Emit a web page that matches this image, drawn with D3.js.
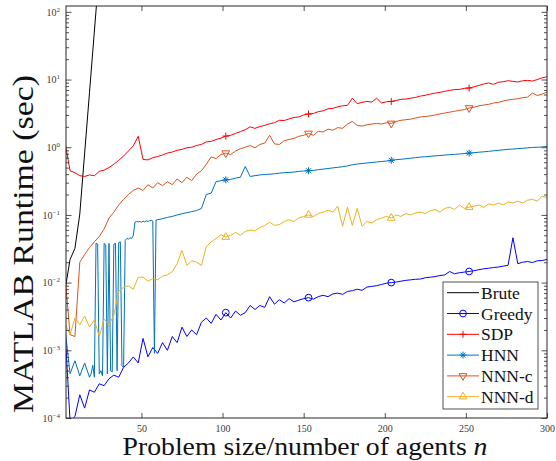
<!DOCTYPE html>
<html>
<head>
<meta charset="utf-8">
<script src="https://cdn.jsdelivr.net/npm/d3@7"></script>
<style>
body { margin: 0; background: #fff; }
svg { display: block; font-family: "Liberation Serif", serif; }
</style>
</head>
<body>
<svg width="556" height="461"></svg>
<script>
// problem sizes n, every third size
var sizes = d3.range(3, 301, 3)

var bruteSizes = [3, 6, 9, 12, 15, 18, 21, 24]
var brute = [0.008, 0.022, 0.032, 0.103, 0.82, 6.5, 52, 410]

var greedy = [
    0.0018, 0.00009, 0.000105, 0.00022, 0.00014, 0.00026, 0.00024, 0.00032, 0.0003, 0.00038,
    0.00043, 0.0004, 0.00056, 0.00065, 0.0008, 0.00065, 0.0015, 0.0008, 0.0011, 0.0009,
    0.0013, 0.001, 0.0016, 0.0013, 0.0022, 0.0016, 0.002, 0.0017, 0.0026, 0.003,
    0.0025, 0.0034, 0.0028, 0.0036, 0.003, 0.0038, 0.0033, 0.0036, 0.0046, 0.004,
    0.0046, 0.0043, 0.0062, 0.0048, 0.0056, 0.005, 0.0058, 0.0052, 0.0055, 0.0058,
    0.006, 0.0057, 0.0062, 0.0065, 0.0062, 0.0068, 0.007, 0.0067, 0.0074, 0.0076,
    0.008, 0.0077, 0.0086, 0.0088, 0.009, 0.0094, 0.0098, 0.01, 0.0102, 0.0105,
    0.0108, 0.011, 0.0112, 0.0113, 0.0118, 0.012, 0.0123, 0.0127, 0.013, 0.0146,
    0.0135, 0.014, 0.0143, 0.0146, 0.015, 0.0155, 0.016, 0.0163, 0.0167, 0.017,
    0.0175, 0.018, 0.046, 0.019, 0.02, 0.0205, 0.0198, 0.021, 0.0212, 0.022
]

var sdp = [
    1.15, 0.45, 0.42, 0.38, 0.37, 0.39, 0.38, 0.44, 0.46, 0.5,
    0.56, 0.64, 0.74, 0.88, 1.05, 1.45, 0.66, 0.65, 0.7, 0.73,
    0.77, 0.82, 0.85, 0.9, 0.93, 0.98, 1.0, 1.06, 1.1, 1.2,
    1.22, 1.3, 1.36, 1.46, 1.5, 1.6, 1.7, 1.82, 2.0, 1.9,
    2.02, 2.1, 2.22, 2.3, 2.5, 2.48, 2.62, 2.75, 2.8, 3.0,
    3.1, 3.15, 3.35, 3.45, 3.7, 3.75, 3.95, 4.1, 4.15, 5.3,
    4.4, 4.6, 4.75, 4.65, 5.3, 4.5, 4.7, 4.75, 4.9, 5.1,
    5.15, 5.3, 5.45, 5.7, 5.85, 6.1, 6.3, 6.45, 6.7, 6.9,
    7.1, 7.15, 7.4, 7.5, 7.8, 8.2, 8.6, 8.9, 8.5, 9.1,
    9.3, 9.6, 9.4, 9.2, 9.6, 9.7, 9.5, 10.0, 10.6, 11.0
]

// HNN is read at every size where it jumps between its two levels
var hnnSizes = [
    3, 6, 9, 12, 15, 18,
    19, 20, 21, 22, 23, 24, 25, 26, 27, 28, 29, 30, 31, 32, 33, 34, 35, 36, 37, 38, 39,
    40, 41, 42, 43, 44, 45, 46, 47, 48, 49, 50, 51, 52, 53, 54, 55, 56, 57, 58, 59, 60,
    63, 66, 69, 72, 75, 78, 81, 84, 87, 90,
    93, 96, 99, 102, 105, 108, 111, 114, 117, 120,
    123, 126, 129, 132, 135, 138, 141, 144, 147, 150,
    153, 156, 159, 162, 165, 168, 171, 174, 177, 180,
    183, 186, 189, 192, 195, 198, 201, 204, 207, 210,
    213, 216, 219, 222, 225, 228, 231, 234, 237, 240,
    243, 246, 249, 252, 255, 258, 261, 264, 267, 270,
    273, 276, 279, 282, 285, 288, 291, 294, 297, 300
]
var hnn = [
    0.002, 0.00045, 0.0007, 0.00042, 0.00065, 0.0004,
    0.00045, 0.0006, 0.0004, 0.038, 0.037, 0.00045, 0.0005, 0.00042, 0.038, 0.036, 0.00045,
    0.038, 0.0005, 0.00048, 0.037, 0.038, 0.0005, 0.039, 0.04, 0.0006, 0.00055,
    0.042, 0.045, 0.044, 0.046, 0.045, 0.05, 0.078, 0.08, 0.079, 0.08, 0.078, 0.081,
    0.079, 0.082, 0.08, 0.082, 0.083, 0.081, 0.0009, 0.084, 0.085,
    0.088, 0.092, 0.095, 0.1, 0.104, 0.108, 0.112, 0.116, 0.125, 0.2,
    0.21, 0.31, 0.32, 0.33, 0.335, 0.35, 0.36, 0.52, 0.37, 0.38,
    0.39, 0.395, 0.4, 0.405, 0.415, 0.42, 0.425, 0.43, 0.44, 0.445,
    0.45, 0.455, 0.465, 0.475, 0.485, 0.495, 0.505, 0.515, 0.53, 0.55,
    0.565, 0.575, 0.585, 0.595, 0.605, 0.615, 0.625, 0.64, 0.655, 0.665,
    0.675, 0.69, 0.7, 0.715, 0.725, 0.735, 0.745, 0.755, 0.765, 0.775,
    0.785, 0.795, 0.805, 0.82, 0.83, 0.845, 0.855, 0.87, 0.885, 0.9,
    0.915, 0.93, 0.94, 0.955, 0.965, 0.98, 0.99, 1.0, 1.01, 1.03
]

var nnnC = [
    0.012, 0.0017, 0.0016, 0.02, 0.026, 0.033, 0.04, 0.048, 0.062, 0.09,
    0.11, 0.14, 0.17, 0.2, 0.23, 0.25, 0.23, 0.28, 0.25, 0.3,
    0.27, 0.31, 0.28, 0.34, 0.3, 0.36, 0.32, 0.4, 0.45, 0.56,
    0.72, 0.68, 0.78, 0.82, 0.78, 0.88, 0.95, 1.0, 1.06, 0.98,
    1.1, 1.15, 1.5, 1.12, 1.1, 1.25, 1.3, 1.35, 1.45, 1.5,
    1.6, 1.5, 1.72, 1.68, 1.85, 1.78, 1.95, 1.9, 2.2, 2.4,
    2.1, 2.05, 2.15, 2.2, 2.25, 2.2, 2.3, 2.25, 2.4, 2.5,
    2.55, 2.6, 2.7, 2.8, 2.85, 2.9, 3.0, 3.1, 3.2, 3.3,
    3.4, 3.5, 3.6, 3.8, 3.9, 4.1, 4.2, 4.3, 4.5, 4.6,
    4.8, 5.0, 5.1, 5.2, 5.4, 5.5, 6.3, 5.8, 6.1, 6.5
]

var nnnD = [
    0.0025, 0.0017, 0.003, 0.0024, 0.0032, 0.0022, 0.0028, 0.0016, 0.0029, 0.0024,
    0.0033, 0.0075, 0.0085, 0.009, 0.008, 0.012, 0.012, 0.0105, 0.0115, 0.011,
    0.0125, 0.013, 0.0145, 0.019, 0.03, 0.018, 0.021, 0.02, 0.018, 0.034,
    0.04, 0.045, 0.051, 0.047, 0.05, 0.055, 0.05, 0.057, 0.06, 0.058,
    0.065, 0.07, 0.078, 0.07, 0.072, 0.08, 0.085, 0.08, 0.09, 0.095,
    0.1, 0.095, 0.105, 0.11, 0.118, 0.11, 0.135, 0.068, 0.13, 0.07,
    0.125, 0.068, 0.08, 0.076, 0.085, 0.09, 0.095, 0.09, 0.1, 0.095,
    0.105, 0.1, 0.107, 0.11, 0.105, 0.115, 0.12, 0.11, 0.125, 0.13,
    0.12, 0.14, 0.125, 0.13, 0.135, 0.14, 0.13, 0.145, 0.14, 0.15,
    0.14, 0.155, 0.15, 0.16, 0.15, 0.165, 0.17, 0.16, 0.19, 0.18
]

var seriesNames = ["Brute", "Greedy", "SDP", "HNN", "NNN-c", "NNN-d"]
var seriesColors = ["#000000", "#0000ff", "#ff0000", "#0072bd", "#d95319", "#edb120"]
var seriesMarkers = ["", "o", "+", "*", "v", "^"]
var markerSizes = [102, 153, 204, 252]

var xTicks = [50, 100, 150, 200, 250, 300]
var yTicks = [1e-4, 1e-3, 1e-2, 1e-1, 1e0, 1e1, 1e2]

var box = {left: 66, right: 547, top: 6, bottom: 418}
var serif = "Liberation Serif"

function renderViz() {
    var svg = d3.select("svg")
    var xScale = d3.scaleLinear().domain([3.5, 300]).range([box.left, box.right])
    var yScale = d3.scaleLog().domain([1e-4, 122]).range([box.bottom, box.top])

    var pair = (ns, vs) => ns.map((n, i) => ({n: n, v: vs[i]}))
    var series = [
        pair(bruteSizes, brute),
        pair(sizes, greedy),
        pair(sizes, sdp),
        pair(hnnSizes, hnn),
        pair(sizes, nnnC),
        pair(sizes, nnnD)
    ]

    svg.append("clipPath").attr("id", "plotclip")
        .append("rect")
        .attr("x", box.left).attr("y", box.top)
        .attr("width", box.right - box.left).attr("height", box.bottom - box.top)

    var lineGen = d3.line()
        .x(d => xScale(d.n))
        .y(d => yScale(d.v))

    var plot = svg.append("g").attr("clip-path", "url(#plotclip)")

    plot.selectAll("path.series")
        .data(series)
        .enter()
        .append("path")
        .attr("class", "series")
        .attr("d", d => lineGen(d))
        .attr("fill", "none")
        .attr("stroke", (d, i) => seriesColors[i])
        .attr("stroke-width", 1)
        .attr("stroke-linejoin", "round")

    series.forEach((s, i) => {
        if (!seriesMarkers[i]) return
        plot.selectAll(null)
            .data(s.filter(d => markerSizes.includes(d.n)))
            .enter()
            .append("path")
            .attr("d", markerPath(seriesMarkers[i]))
            .attr("transform", d => "translate(" + xScale(d.n) + "," + yScale(d.v) + ")")
            .attr("fill", "none")
            .attr("stroke", seriesColors[i])
            .attr("stroke-width", 1)
    })

    renderAxes(svg, xScale, yScale)
    renderLegend(svg)
    renderLabels(svg)
}

function markerPath(type) {
    if (type == "o") return d3.symbol(d3.symbolCircle).size(36)()
    if (type == "+") return "M-3.5,0H3.5M0,-3.5V3.5"
    if (type == "*") return "M-3.5,0H3.5M0,-3.5V3.5M-2.5,-2.5L2.5,2.5M-2.5,2.5L2.5,-2.5"
    var tri = d3.symbol(d3.symbolTriangle).size(26)()
    if (type == "v") return tri.replace(/(-?\d*\.?\d+),(-?\d*\.?\d+)/g, (m, a, b) => a + "," + (-b))
    return tri
}

function renderAxes(svg, xScale, yScale) {
    var axisColor = "#262626"
    var minor = []
    for (var e = -4; e < 2; e++)
        for (var k = 2; k < 10; k++) minor.push(k * Math.pow(10, e))

    var gx = svg.append("g")
        .attr("transform", "translate(0," + box.bottom + ")")
        .call(d3.axisBottom(xScale).tickValues(xTicks).tickSizeInner(-5).tickSizeOuter(0).tickPadding(7))
    gx.selectAll("text").attr("font-size", 10).attr("fill", "#3a3a3a")
        .attr("font-family", serif)

    svg.append("g")
        .attr("transform", "translate(0," + box.top + ")")
        .call(d3.axisTop(xScale).tickValues(xTicks).tickSizeInner(-5).tickSizeOuter(0).tickFormat(""))

    var gy = svg.append("g")
        .attr("transform", "translate(" + box.left + ",0)")
        .call(d3.axisLeft(yScale).tickValues(yTicks).tickSizeInner(-5.5).tickSizeOuter(0).tickPadding(6))
    gy.selectAll(".tick text").each(function(d) {
        var t = d3.select(this).text("")
            .attr("font-size", 10).attr("fill", "#3a3a3a")
            .attr("font-family", serif)
        var ex = Math.round(Math.log10(d))
        t.append("tspan").text("10")
        t.append("tspan").attr("dy", -4).attr("font-size", 7)
            .text(ex < 0 ? "\u2212" + (-ex) : ex)
    })

    svg.append("g")
        .attr("transform", "translate(" + box.left + ",0)")
        .call(d3.axisLeft(yScale).tickValues(minor).tickSizeInner(-3).tickSizeOuter(0).tickFormat(""))

    svg.append("g")
        .attr("transform", "translate(" + box.right + ",0)")
        .call(d3.axisRight(yScale).tickValues(yTicks).tickSizeInner(-5.5).tickSizeOuter(0).tickFormat(""))

    svg.append("g")
        .attr("transform", "translate(" + box.right + ",0)")
        .call(d3.axisRight(yScale).tickValues(minor).tickSizeInner(-3).tickSizeOuter(0).tickFormat(""))

    svg.selectAll(".domain").remove()
    svg.selectAll(".tick line").attr("stroke", axisColor).attr("stroke-width", 0.8)

    svg.append("rect")
        .attr("x", box.left).attr("y", box.top)
        .attr("width", box.right - box.left).attr("height", box.bottom - box.top)
        .attr("fill", "none")
        .attr("stroke", axisColor)
        .attr("stroke-width", 1)
}

function renderLegend(svg) {
    var lg = svg.append("g").attr("transform", "translate(443,282)")
    lg.append("rect")
        .attr("width", 95).attr("height", 127)
        .attr("fill", "#fff")
        .attr("stroke", "#262626")
        .attr("stroke-width", 0.8)

    var rows = lg.selectAll("g.row")
        .data(seriesNames)
        .enter()
        .append("g")
        .attr("class", "row")
        .attr("transform", (d, i) => "translate(0," + (10.7 + i * 20.8) + ")")

    rows.append("line")
        .attr("x1", 4).attr("x2", 36)
        .attr("stroke", (d, i) => seriesColors[i])
        .attr("stroke-width", 1)

    rows.filter((d, i) => seriesMarkers[i] != "")
        .append("path")
        .attr("d", d => markerPath(seriesMarkers[seriesNames.indexOf(d)]))
        .attr("transform", "translate(20,0)")
        .attr("fill", "none")
        .attr("stroke", d => seriesColors[seriesNames.indexOf(d)])
        .attr("stroke-width", 1)

    rows.append("text")
        .attr("x", 38)
        .attr("y", 6)
        .attr("font-family", serif)
        .attr("font-size", 17.5)
        .attr("fill", "#111")
        .text(d => d)
}

function renderLabels(svg) {
    svg.append("text")
        .attr("x", 305)
        .attr("y", 455)
        .attr("text-anchor", "middle")
        .attr("font-family", serif)
        .attr("font-size", 25)
        .attr("textLength", 365)
        .attr("lengthAdjust", "spacingAndGlyphs")
        .attr("fill", "#111")
        .text("Problem size/number of agents ")
        .append("tspan")
        .attr("font-style", "italic")
        .text("n")

    svg.append("text")
        .attr("transform", "translate(33,244) rotate(-90)")
        .attr("text-anchor", "middle")
        .attr("font-family", serif)
        .attr("font-size", 29)
        .attr("textLength", 338)
        .attr("lengthAdjust", "spacingAndGlyphs")
        .attr("fill", "#111")
        .text("MATLAB Runtime (sec)")
}

renderViz()
</script>
</body>
</html>
